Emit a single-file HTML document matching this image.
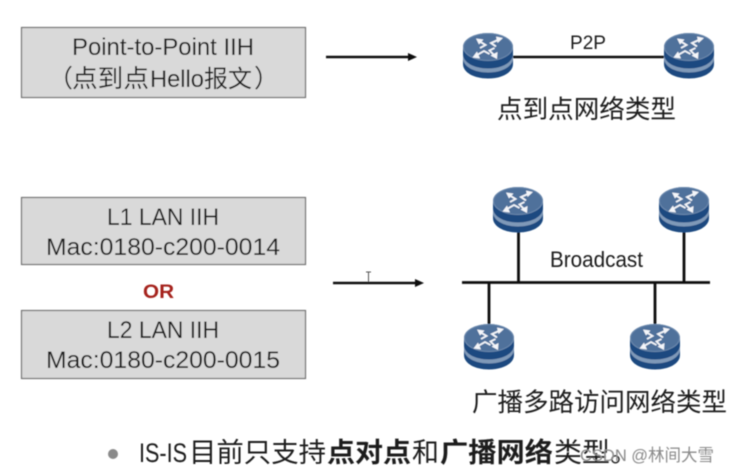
<!DOCTYPE html>
<html><head><meta charset="utf-8">
<style>
html,body{margin:0;padding:0;background:#fff;width:729px;height:473px;overflow:hidden}
svg{display:block}
text{font-family:"Liberation Sans","Noto Sans CJK SC",sans-serif;fill:#1a1a1a}
</style></head>
<body>
<svg width="729" height="473" viewBox="0 0 729 473" xmlns="http://www.w3.org/2000/svg">
<defs>
<filter id="b" x="-5%" y="-5%" width="110%" height="110%"><feGaussianBlur stdDeviation="0.4"/></filter>
<g id="r">
  <path d="M0 14V31C0 39.500 11 45.500 25 45.500S50 39.500 50 31V14Z" fill="#1c4a80"/>
  <path d="M0 21C0 29.500 11 35.500 25 35.500S50 29.500 50 21V25C50 33.500 39 39.500 25 39.500S0 33.500 0 25Z" fill="#7f99b8"/>
  <ellipse cx="25" cy="14" rx="25" ry="14" fill="#4f719b"/>
  <ellipse cx="25" cy="14" rx="24.500" ry="13.500" fill="none" stroke="#6c89ad" stroke-width="1"/>
  <g fill="none" stroke="#f4f6fa" stroke-width="1.800">
    <path d="M16 8L22.500 12 17 15"/>
    <path d="M36 6.500L28 10 33 13.500"/>
    <path d="M14 22L21 18 26.500 21"/>
    <path d="M32 23L26.500 17.500 31.500 15"/>
  </g>
  <g fill="#f4f6fa">
    <path d="M13 5.500L20.500 6.500 16 11.500Z"/>
    <path d="M40 5L33 3.500 34.500 10Z"/>
    <path d="M9.500 24.500L17 25.500 14 18.500Z"/>
    <path d="M34 26L34.500 19 27.500 22.500Z"/>
  </g>
</g>
</defs>
<g filter="url(#b)">
  <rect x="21.500" y="27.500" width="284" height="70" fill="#d9d9d9" stroke="#6f6f6f" stroke-width="1.200"/>
  <rect x="21.500" y="197.500" width="284" height="67" fill="#d9d9d9" stroke="#6f6f6f" stroke-width="1.200"/>
  <rect x="21.500" y="310.500" width="284" height="68" fill="#d9d9d9" stroke="#6f6f6f" stroke-width="1.200"/>

  <text x="72" y="55" font-size="24" textLength="182" lengthAdjust="spacingAndGlyphs">Point-to-Point IIH</text>
  <text x="48" y="87" font-size="25">（</text>
  <text x="72" y="87" font-size="25" textLength="77" lengthAdjust="spacingAndGlyphs">点到点</text>
  <text x="150" y="87" font-size="24" textLength="54" lengthAdjust="spacingAndGlyphs">Hello</text>
  <text x="204" y="87" font-size="24" textLength="48" lengthAdjust="spacingAndGlyphs">报文</text>
  <text x="254" y="87" font-size="25">）</text>

  <text x="107" y="225" font-size="24" textLength="112" lengthAdjust="spacingAndGlyphs">L1 LAN IIH</text>
  <text x="46" y="255" font-size="24" textLength="234" lengthAdjust="spacingAndGlyphs">Mac:0180-c200-0014</text>
  <text x="107" y="338" font-size="24" textLength="112" lengthAdjust="spacingAndGlyphs">L2 LAN IIH</text>
  <text x="46" y="368" font-size="24" textLength="234" lengthAdjust="spacingAndGlyphs">Mac:0180-c200-0015</text>
  <text x="143" y="298" font-size="19.500" font-weight="bold" style="fill:#a5241c" textLength="31" lengthAdjust="spacingAndGlyphs">OR</text>

  <path d="M326 57H410" stroke="#111" stroke-width="2.500"/>
  <path d="M408 53L417 57 408 61Z" fill="#111"/>
  <path d="M333 283H417" stroke="#111" stroke-width="2.500"/>
  <path d="M415 279L424 283 415 287Z" fill="#111"/>
  <path d="M368.500 272V282M366 272H371" stroke="#555" stroke-width="1" fill="none"/>

  <path d="M510 57H667" stroke="#111" stroke-width="2.500"/>
  <path d="M462 282.500H710" stroke="#111" stroke-width="2.800"/>
  <path d="M518.500 228V282M684 228V282M489 282V328M655 282V328" stroke="#111" stroke-width="2.800"/>

  <use href="#r" x="463" y="33"/>
  <use href="#r" x="664" y="33"/>
  <use href="#r" x="493" y="187"/>
  <use href="#r" x="659" y="187"/>
  <use href="#r" x="464" y="324"/>
  <use href="#r" x="630" y="324"/>

  <text x="570" y="49" font-size="19" textLength="36" lengthAdjust="spacingAndGlyphs">P2P</text>
  <text x="497" y="118" font-size="25.500" textLength="179" lengthAdjust="spacingAndGlyphs">点到点网络类型</text>
  <text x="550" y="267" font-size="22" textLength="93" lengthAdjust="spacingAndGlyphs">Broadcast</text>
  <text x="472" y="411" font-size="25.500" textLength="255" lengthAdjust="spacingAndGlyphs">广播多路访问网络类型</text>

  <circle cx="113" cy="454" r="5" fill="#8a8a8a"/>
  <text x="139" y="462" font-size="27" textLength="48" lengthAdjust="spacingAndGlyphs">IS-IS</text>
  <text x="189" y="462" font-size="27" textLength="137" lengthAdjust="spacingAndGlyphs">目前只支持</text>
  <text x="327" y="462" font-size="27" font-weight="bold" textLength="84" lengthAdjust="spacingAndGlyphs">点对点</text>
  <text x="412" y="462" font-size="27">和</text>
  <text x="440" y="462" font-size="27" font-weight="bold" textLength="113" lengthAdjust="spacingAndGlyphs">广播网络</text>
  <text x="554" y="462" font-size="27" textLength="84" lengthAdjust="spacingAndGlyphs">类型。</text>
  <text x="580" y="461" font-size="17" style="fill:#8a8a8a" textLength="134" lengthAdjust="spacingAndGlyphs">CSDN @林间大雪</text>
</g>
</svg>
</body></html>
